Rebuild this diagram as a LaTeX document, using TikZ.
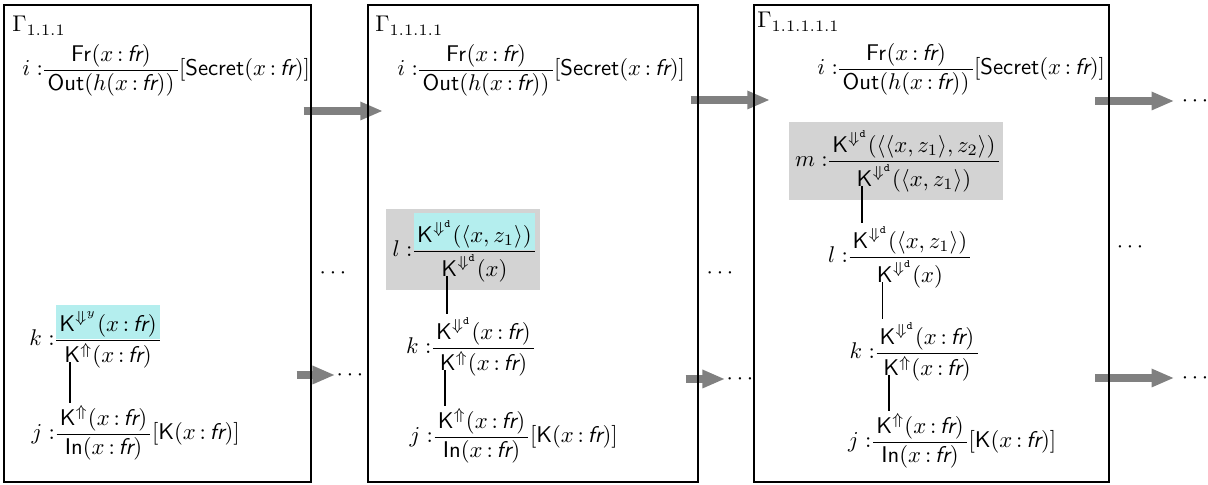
\documentclass[tikz,border=0pt]{standalone}
\usetikzlibrary{arrows.meta,fit,backgrounds}
\definecolor{hlcyan}{RGB}{180,238,238}
\definecolor{hlgray}{RGB}{211,211,211}
\definecolor{flowgray}{RGB}{128,128,128}
\newcommand{\xfr}{x\,{:}\,\textsf{\itshape fr}}
\newcommand{\Kup}{\mathsf{K}^{\Uparrow}}
\newcommand{\Kdd}{\mathsf{K}^{\Downarrow^{\mathtt{d}}}}
% name, x, y, label, numerator, denominator
\newcommand{\rulefrac}[6]{%
  \coordinate (#1-bar) at (#2,#3);
  \node[fracpart, anchor=south] (#1-num) at (#1-bar) {$#5$};
  \node[fracpart, anchor=north] (#1-den) at (#1-bar) {$#6$};
  \node[fit=(#1-num)(#1-den), inner sep=0pt] (#1) {};
  \draw[fracbar] (#1.west |- #1-bar) -- (#1.east |- #1-bar);
  \node[anchor=east, inner sep=0.5pt] (#1-lab) at (#1.west |- #1-bar) {$\vphantom{(}#4\mathrel{:}$};
}
\begin{document}
\begin{tikzpicture}[x=0.44pt, y=-0.44pt,
    stagebox/.style={draw, line width=0.45pt, inner sep=0pt},
    fracpart/.style={inner xsep=1pt, inner ysep=1.2pt},
    fracbar/.style={line width=0.4pt},
    linkline/.style={line width=0.8pt},
    sidenote/.style={anchor=west, inner sep=0.5pt},
    flowarrow/.style={flowgray, line width=3.5pt, -{Triangle[length=10pt,width=7.5pt]}},
    hlgraybox/.style={fill=hlgray, inner sep=2pt}]
    \useasboundingbox (0,0) rectangle (1208,485);
    % ---- stages ----
    \node[stagebox, fit={(4,5) (311,482)}] (g1) {};
    \node[stagebox, fit={(368,5) (698,482)}] (g2) {};
    \node[stagebox, fit={(754,5) (1109,482)}] (g3) {};
    \node[anchor=base west, inner sep=0pt] (gam1) at (12,32) {$\Gamma_{1.1.1}$};
    \node[anchor=base west, inner sep=0pt] (gam2) at (375,32) {$\Gamma_{1.1.1.1}$};
    \node[anchor=base west, inner sep=0pt] (gam3) at (757,28) {$\Gamma_{1.1.1.1.1}$};
    % ---- stage 1 ----
    \rulefrac{b1i}{111}{70}{i}{\mathsf{Fr}(\xfr)}{\mathsf{Out}(h(\xfr))}
    \node[sidenote] (b1i-side) at (b1i.east |- b1i-bar) {$\vphantom{(}[\mathsf{Secret}(\xfr)]$};
    \rulefrac{b1k}{108}{340}{k}{\mathsf{K}^{\Downarrow^{y}}(\xfr)}{\Kup(\xfr)}
    \rulefrac{b1j}{103.5}{434}{j}{\Kup(\xfr)}{\mathsf{In}(\xfr)}
    \node[sidenote] (b1j-side) at (b1j.east |- b1j-bar) {$\vphantom{(}[\mathsf{K}(\xfr)]$};
    \draw[linkline] ([xshift=3.6pt]b1k-den.base west) -- ([xshift=3.6pt]b1k-den.base west |- b1j-num.north);
    % ---- stage 2 ----
    \rulefrac{b2i}{486}{70}{i}{\mathsf{Fr}(\xfr)}{\mathsf{Out}(h(\xfr))}
    \node[sidenote] (b2i-side) at (b2i.east |- b2i-bar) {$\vphantom{(}[\mathsf{Secret}(\xfr)]$};
    \rulefrac{b2l}{474.5}{251}{l}{\Kdd(\langle x,z_1\rangle)}{\Kdd(x)}
    \rulefrac{b2k}{483.5}{348}{k}{\Kdd(\xfr)}{\Kup(\xfr)}
    \rulefrac{b2j}{481.5}{437}{j}{\Kup(\xfr)}{\mathsf{In}(\xfr)}
    \node[sidenote] (b2j-side) at (b2j.east |- b2j-bar) {$\vphantom{(}[\mathsf{K}(\xfr)]$};
    \draw[linkline] ([xshift=3.6pt]b2l-den.base west) -- ([xshift=3.6pt]b2l-den.base west |- b2k-num.north);
    \draw[linkline] ([xshift=3.6pt]b2k-den.base west) -- ([xshift=3.6pt]b2k-den.base west |- b2j-num.north);
    % ---- stage 3 ----
    \rulefrac{b3i}{906}{69}{i}{\mathsf{Fr}(\xfr)}{\mathsf{Out}(h(\xfr))}
    \node[sidenote] (b3i-side) at (b3i.east |- b3i-bar) {$\vphantom{(}[\mathsf{Secret}(\xfr)]$};
    \rulefrac{b3m}{914}{161}{m}{\Kdd(\langle\langle x,z_1\rangle,z_2\rangle)}{\Kdd(\langle x,z_1\rangle)}
    \rulefrac{b3l}{910}{257}{l}{\Kdd(\langle x,z_1\rangle)}{\Kdd(x)}
    \rulefrac{b3k}{927}{353}{k}{\Kdd(\xfr)}{\Kup(\xfr)}
    \rulefrac{b3j}{920}{442}{j}{\Kup(\xfr)}{\mathsf{In}(\xfr)}
    \node[sidenote] (b3j-side) at (b3j.east |- b3j-bar) {$\vphantom{(}[\mathsf{K}(\xfr)]$};
    \draw[linkline] ([xshift=3.6pt]b3m-den.base west) -- ([xshift=3.6pt]b3m-den.base west |- b3l-num.north);
    \draw[linkline] ([xshift=3.6pt]b3l-den.base west) -- ([xshift=3.6pt]b3l-den.base west |- b3k-num.north);
    \draw[linkline] ([xshift=3.6pt]b3k-den.base west) -- ([xshift=3.6pt]b3k-den.base west |- b3j-num.north);
    % ---- dots ----
    \node[inner sep=0.5pt] (mid1) at (333,273) {$\cdots$};
    \node[inner sep=0.5pt] (mid2) at (720,273) {$\cdots$};
    \node[inner sep=0.5pt] (mid3) at (1130,247) {$\cdots$};
    \node[inner sep=0.5pt] (top3-dots) at (1195,101) {$\cdots$};
    \node[inner sep=0.5pt] (b1-dots) at (350,375) {$\cdots$};
    \node[inner sep=0.5pt] (b2-dots) at (740,379) {$\cdots$};
    \node[inner sep=0.5pt] (b3-dots) at (1195,378) {$\cdots$};
    \coordinate (t12) at (383,111);
    \coordinate (t23) at (770,100);
    % ---- highlights and flow arrows ----
    \begin{scope}[on background layer]
        \coordinate (b2l-top) at ([yshift=1.5pt]b2l-num.north);
        \node[hlgraybox, fit=(b2l-lab)(b2l)(b2l-top)] (b2l-hl) {};
        \node[hlgraybox, fit=(b3m-lab)(b3m)] (b3m-hl) {};
        \fill[hlcyan] ([yshift=1.5pt]b1k.west |- b1k-num.north) rectangle ([yshift=0.6pt]b1k-num.south -| b1k.east);
        \fill[hlcyan] (b2l.west |- b2l-top) rectangle ([yshift=0.6pt]b2l-num.south -| b2l.east);
        \draw[flowarrow] ([xshift=-3.5pt]g1.east |- t12) -- (t12);
        \draw[flowarrow] ([xshift=-3.5pt]g2.east |- t23) -- (t23);
        \draw[flowarrow, shorten >=2.6pt] ([xshift=-6.2pt]g3.east |- top3-dots) -- (top3-dots.west);
        \draw[flowarrow] ([xshift=-6.6pt]g1.east |- b1-dots) -- (b1-dots.west);
        \draw[flowarrow] ([xshift=-5.7pt]g2.east |- b2-dots) -- (b2-dots.west);
        \draw[flowarrow, shorten >=2.6pt] ([xshift=-6.2pt]g3.east |- b3-dots) -- (b3-dots.west);
    \end{scope}
\end{tikzpicture}
\end{document}
